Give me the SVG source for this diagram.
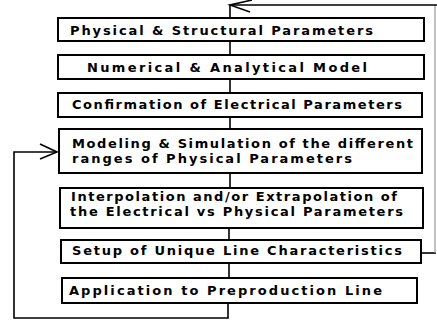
<svg xmlns="http://www.w3.org/2000/svg" width="437" height="322" viewBox="0 0 437 322">
<style>
.box{fill:#fff;stroke:#000;stroke-width:2}
.t{font-family:"DejaVu Sans","Liberation Sans",Arial,sans-serif;font-weight:bold;font-size:13px;fill:#000}
.c{fill:none;stroke:#000;stroke-width:1.6}
.f{fill:none;stroke:#999;stroke-width:1.2}
</style>
<rect width="437" height="322" fill="#fff"/>
<g id="connectors">
<line class="c" x1="230" y1="41" x2="230" y2="55"/>
<line class="c" x1="230" y1="79" x2="230" y2="93"/>
<line class="c" x1="230" y1="117" x2="230" y2="129"/>
<line class="c" x1="230" y1="173" x2="230" y2="188"/>
<line class="c" x1="229" y1="228" x2="229" y2="240"/>
<line class="c" x1="229" y1="263" x2="229" y2="278"/>
<polyline class="c" points="228,303 228,318 14,318 14,152 57,152"/>
<polyline class="c" points="40,144 57,152 40,159"/>
<polyline class="c" points="421,253 436,253"/>
<line class="f" x1="435" y1="5" x2="435" y2="253"/>
<polyline class="c" points="437,5 230,5 230,18"/>
<polyline class="c" points="252,0 230,5 250,12"/>
</g>
<g id="n1"><rect class="box" x="58" y="18" width="366" height="23"/><text class="t" x="70" y="35" textLength="303" lengthAdjust="spacing">Physical &amp; Structural Parameters</text></g>
<g id="n2"><rect class="box" x="58" y="55" width="366" height="24"/><text class="t" x="87" y="72" textLength="280" lengthAdjust="spacing">Numerical &amp; Analytical Model</text></g>
<g id="n3"><rect class="box" x="58" y="93" width="364" height="24"/><text class="t" x="72" y="109" textLength="330" lengthAdjust="spacing">Confirmation of Electrical Parameters</text></g>
<g id="n4"><rect class="box" x="59" y="129" width="363" height="44"/><text class="t" x="72" y="148" textLength="341" lengthAdjust="spacing">Modeling &amp; Simulation of the different</text><text class="t" x="72" y="163" textLength="280" lengthAdjust="spacing">ranges of Physical Parameters</text></g>
<g id="n5"><rect class="box" x="60" y="188" width="363" height="40"/><text class="t" x="71" y="201" textLength="326" lengthAdjust="spacing">Interpolation and/or Extrapolation of</text><text class="t" x="70" y="216" textLength="333" lengthAdjust="spacing">the Electrical vs Physical Parameters</text></g>
<g id="n6"><rect class="box" x="61" y="240" width="360" height="23"/><text class="t" x="72" y="255" textLength="330" lengthAdjust="spacing">Setup of Unique Line Characteristics</text></g>
<g id="n7"><rect class="box" x="62" y="278" width="355" height="25"/><text class="t" x="69" y="295" textLength="313" lengthAdjust="spacing">Application to Preproduction Line</text></g>
</svg>
